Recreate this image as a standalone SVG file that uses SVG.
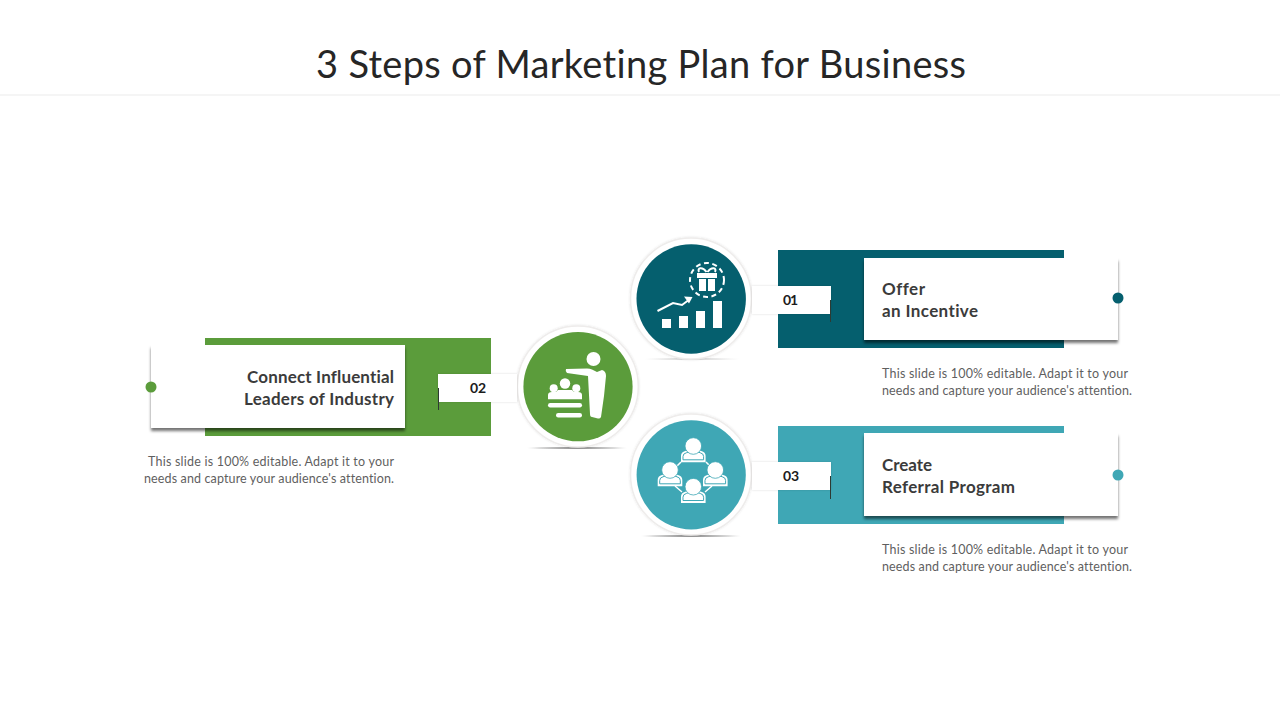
<svg xmlns="http://www.w3.org/2000/svg" width="1280" height="720" viewBox="0 0 1280 720">
<style>
text{font-family:"Lato","Liberation Sans",sans-serif;font-variant-ligatures:none}
.title{font-size:38px;fill:#262626}
.head{font-size:17px;font-weight:700;fill:#3b3b3b}
.body{font-size:12.5px;fill:#5f5f5f}
.num{font-size:14px;font-weight:700;fill:#1c1c1c}
.card{fill:#fff;filter:url(#cs)}
.ring{fill:#fff;stroke:#eeeceb;stroke-width:1.5;filter:url(#rs)}
.flag{fill:#fff;filter:url(#fs)}
.w{fill:#fff}
.tick{stroke:#2e3a33;stroke-width:1}
</style>
<defs>
<filter id="cs" x="-10%" y="-10%" width="120%" height="125%"><feDropShadow dx="0" dy="3" stdDeviation="1.800" flood-color="#000" flood-opacity=".55"/></filter>
<filter id="rs" x="-10%" y="-10%" width="120%" height="120%"><feDropShadow dx="0" dy="0" stdDeviation="1.200" flood-color="#000" flood-opacity=".12"/></filter>
<filter id="fs" x="-10%" y="-20%" width="120%" height="150%"><feDropShadow dx="0" dy="0" stdDeviation="1" flood-color="#000" flood-opacity=".14"/></filter>
<radialGradient id="sh"><stop offset="0" stop-color="#333" stop-opacity=".75"/><stop offset="1" stop-color="#333" stop-opacity="0"/></radialGradient>
<g id="person">
<path class="w" d="M-12.300 12.300V6Q-12.300 2-8 1L-3-1H3L8 1Q12.300 2 12.300 6V12.300Z"/>
<path d="M-10.300 9.800H10.300M-10.300 9.800V6.500Q-10.300 3.500-7 2.800L-3.500 1.500M3.500 1.500L7 2.800Q10.300 3.500 10.300 6.500V9.800" stroke="currentColor" stroke-width="1" fill="none"/>
<circle class="w" cx="0" cy="-4" r="8.300" stroke="currentColor" stroke-width=".8"/>
</g>
</defs>
<rect width="1280" height="720" fill="#fff"/>
<text class="title" x="641" y="78" text-anchor="middle" textLength="650" lengthAdjust="spacing">3 Steps of Marketing Plan for Business</text>
<rect x="0" y="94.500" width="1280" height="1" fill="#ececec"/>

<g id="node-01">
<rect x="778" y="250" width="286" height="98" fill="#055f6e"/>
<rect class="card" x="864" y="258" width="254" height="82"/>
<circle cx="1118" cy="298" r="5.500" fill="#055f6e"/>
<text class="head" x="882" y="295" textLength="43">Offer</text>
<text class="head" x="882" y="317" textLength="96">an Incentive</text>
<text class="body" x="882" y="377.500" textLength="246">This slide is 100% editable. Adapt it to your</text>
<text class="body" x="882" y="394.500" textLength="250">needs and capture your audience's attention.</text>
<ellipse cx="692" cy="359" rx="52" ry="1.200" fill="url(#sh)" opacity=".4"/>
<circle class="ring" cx="691" cy="298.500" r="60.500"/>
<circle cx="691.200" cy="299" r="54.700" fill="#055f6e"/>
<g class="w">
<rect x="662" y="319" width="9" height="9"/>
<rect x="679" y="316" width="9" height="12"/>
<rect x="696" y="311" width="9" height="17"/>
<rect x="713" y="301" width="9" height="27"/>
</g>
<path d="M657.500 311L673 303L682 305L690 299" fill="none" stroke="#fff" stroke-width="2"/>
<path d="M684 296.500L692.500 297L689 303.500Z" fill="#fff"/>
<circle cx="707" cy="280" r="17" fill="none" stroke="#fff" stroke-width="2" stroke-dasharray="5 3.500"/>
<g class="w">
<rect x="697" y="273" width="20" height="5"/>
<rect x="699" y="279" width="7" height="12"/>
<rect x="708" y="279" width="7" height="12"/>
</g>
<path d="M706.500 272C702 266 697 268 699 272M707.500 272C712 266 717 268 715 272" fill="none" stroke="#fff" stroke-width="2"/>
</g>

<g id="node-02">
<rect x="205" y="338" width="286" height="98" fill="#5b9c3b"/>
<rect class="card" x="151" y="345" width="254" height="83"/>
<circle cx="151" cy="387" r="5.500" fill="#5b9c3b"/>
<text class="head" x="247" y="383" textLength="147">Connect Influential</text>
<text class="head" x="244" y="405" textLength="150">Leaders of Industry</text>
<text class="body" x="148" y="465.500" textLength="246">This slide is 100% editable. Adapt it to your</text>
<text class="body" x="144" y="482.500" textLength="250">needs and capture your audience's attention.</text>
<ellipse cx="577" cy="448" rx="53" ry="1.500" fill="url(#sh)"/>
<circle class="ring" cx="577.800" cy="386.500" r="60.500"/>
<circle cx="578" cy="386.700" r="54.600" fill="#5b9c3b"/>
<circle class="w" cx="593.500" cy="359" r="7"/>
<path class="w" d="M566 369L587 368.500Q590 368.500 592 369.500L597 372L602 370Q606 371 606 376L604 396L601 417Q600 419 598 418.500L592 417Q590 417 590 414L588 376L567 373Q565 371 566 369Z"/>
<g class="w">
<circle cx="553.700" cy="388.300" r="4"/><circle cx="565" cy="383.500" r="5.200"/><circle cx="576.300" cy="388.300" r="4"/>
<path d="M548 399.300V395Q548 392 552 392H556L558 390H572L574 392H578Q582 392 582 395V399.300Z"/>
<rect x="548" y="403" width="34" height="4.500" rx="2.200"/>
<rect x="556" y="413" width="26" height="4.500" rx="2.200"/>
</g>
</g>

<g id="node-03">
<rect x="778" y="426" width="286" height="98" fill="#3fa7b5"/>
<rect class="card" x="864" y="433" width="254" height="83"/>
<circle cx="1118" cy="475" r="5.500" fill="#3fa7b5"/>
<text class="head" x="882" y="471" textLength="50">Create</text>
<text class="head" x="882" y="493" textLength="133">Referral Program</text>
<text class="body" x="882" y="553.500" textLength="246">This slide is 100% editable. Adapt it to your</text>
<text class="body" x="882" y="570.500" textLength="250">needs and capture your audience's attention.</text>
<ellipse cx="691" cy="536" rx="53" ry="1.500" fill="url(#sh)"/>
<circle class="ring" cx="691" cy="474.500" r="60.500"/>
<circle cx="691.200" cy="474.800" r="54.600" fill="#3fa7b5"/>
<path d="M681 462L675 468M706 462L712 468M675 486L682 492M712 486L705 492" stroke="#fff" stroke-width="1.500"/>
<g color="#3fa7b5">
<use href="#person" x="693.300" y="450"/>
<use href="#person" x="670" y="474"/>
<use href="#person" x="715.300" y="474"/>
<use href="#person" x="693.300" y="490.700"/>
</g>
</g>

<g id="connectors">
<rect class="flag" x="752" y="286" width="79" height="28"/>
<path class="tick" d="M830.500 300V322"/>
<text class="num" x="783" y="305" textLength="15">01</text>
<rect class="flag" x="438" y="374" width="79" height="28"/>
<path class="tick" d="M438.500 388V410"/>
<text class="num" x="470" y="393" textLength="16">02</text>
<rect class="flag" x="752" y="462" width="79" height="28"/>
<path class="tick" d="M830.500 476V499"/>
<text class="num" x="783" y="481" textLength="16">03</text>
</g>
</svg>
